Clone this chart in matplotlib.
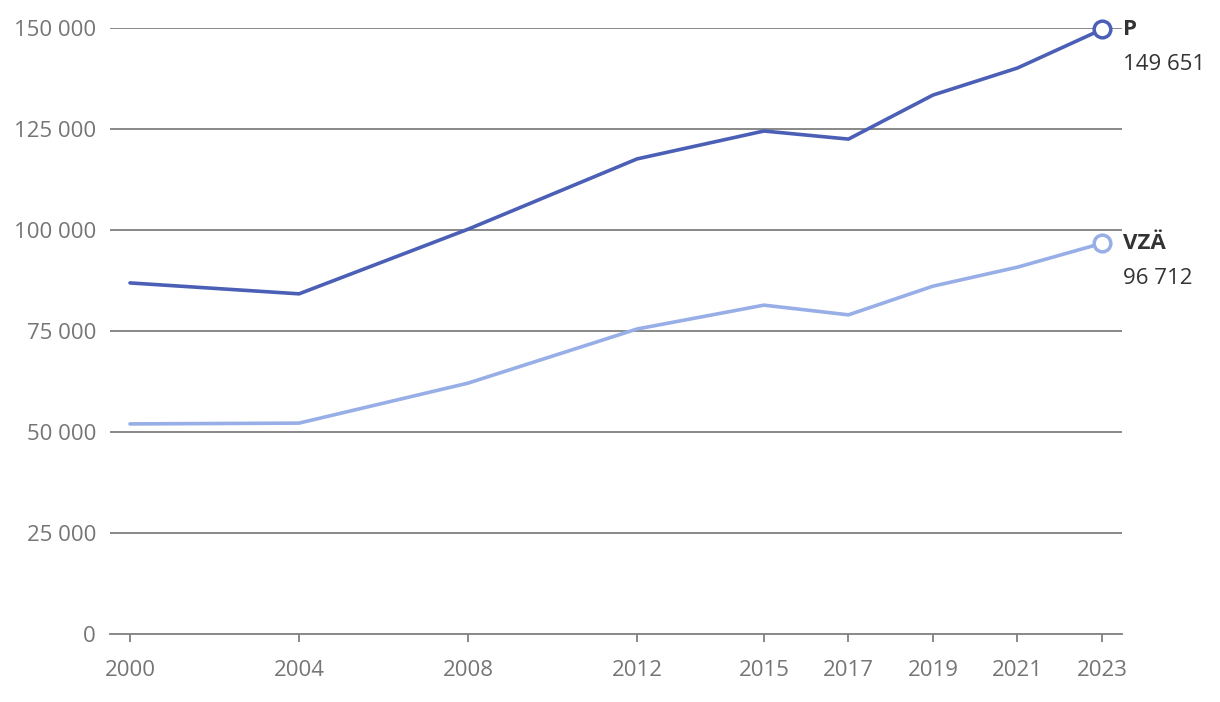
import matplotlib.pyplot as plt
import numpy as np

plt.rcParams['font.family'] = ['Open Sans', 'DejaVu Sans']

# 数据
years = [2000, 2004, 2008, 2012, 2015, 2017, 2019, 2021, 2023]
p_values = [86900, 84200, 100200, 117600, 124500, 122500, 133400, 140100, 149651]
vza_values = [52000, 52200, 62100, 75500, 81400, 79000, 86100, 90800, 96712]
series_names = ["P", "VZÄ"]
end_labels = ["149 651", "96 712"]
y_ticks = [0, 25000, 50000, 75000, 100000, 125000, 150000]
y_tick_labels = ["0", "25 000", "50 000", "75 000", "100 000", "125 000", "150 000"]

dark_blue = '#4a5fb5'
light_blue = '#97aee6'
grid_color = '#7f7f7f'
tick_color = '#757575'
label_color = '#333333'

fig = plt.figure(figsize=(12.2, 7.02), dpi=100)
ax = fig.add_axes([110 / 1220, 1 - 634 / 702, 1012 / 1220, 606 / 702])

ax.set_xlim(2000 - 20 / 42.26, 2023 + 20 / 42.26)
ax.set_ylim(0, 150000)

for y in y_ticks[1:]:
    ax.axhline(y, color=grid_color, linewidth=1.3, zorder=1)

for vals, color in [(vza_values, light_blue), (p_values, dark_blue)]:
    ax.plot(years, vals, color=color, linewidth=2.6, zorder=3, solid_capstyle='round')
    ax.plot(years[-1], vals[-1], marker='o', markersize=12, markerfacecolor='white',
            markeredgecolor=color, markeredgewidth=2.5, zorder=4, clip_on=False)

# 末端标签
for name, lab, vals in zip(series_names, end_labels, [p_values, vza_values]):
    ax.annotate(name, (years[-1], vals[-1]), xytext=(15, 0), textcoords='offset points',
                ha='left', va='center', fontsize=16, fontweight='bold', color=label_color)
    ax.annotate(lab, (years[-1], vals[-1]), xytext=(15, -25), textcoords='offset points',
                ha='left', va='center', fontsize=16, color=label_color)

for s in ['top', 'right', 'left']:
    ax.spines[s].set_visible(False)
ax.spines['bottom'].set_color(grid_color)
ax.spines['bottom'].set_linewidth(1.3)

ax.set_xticks(years)
ax.set_xticklabels([str(y) for y in years])
ax.set_yticks(y_ticks)
ax.set_yticklabels(y_tick_labels)
ax.tick_params(axis='x', colors=grid_color, labelcolor=tick_color, labelsize=16,
               length=6, width=1.3, pad=13)
ax.tick_params(axis='y', length=0, labelcolor=tick_color, labelsize=16, pad=10)

plt.savefig("out.png", dpi=100)
